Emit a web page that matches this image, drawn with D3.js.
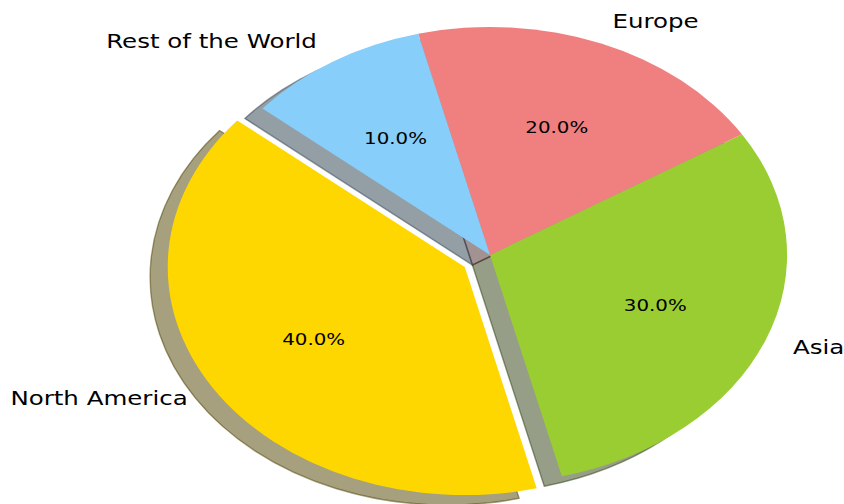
<!DOCTYPE html>
<html><head><meta charset="utf-8">
<script src="https://cdn.jsdelivr.net/npm/d3@7"></script>
<style>html,body{margin:0;padding:0;background:#fff;}svg{display:block;}</style>
</head><body>
<svg id="chart" width="844" height="504"></svg>
<script>
const categories = ["North America", "Asia", "Europe", "Rest of the World"];
const values = [40, 30, 20, 10];
const colors = ["#FFD700", "#9ACD32", "#F08080", "#87CEFA"];
const explode = [0.1, 0, 0, 0];

const W = 844, H = 504;
const cx = 490, cy = 255, R = 228, sx = 1.303;
const startDeg = 140; // matplotlib startangle, counter-clockwise
const shadowOff = [-13.5, 10];

const svg = d3.select("#chart");
const g = svg.append("g").attr("transform", `translate(${cx},${cy}) scale(${sx},1)`);

const a0 = (90 - startDeg) * Math.PI / 180;
const pie = d3.pie().sort(null).value(d => d).startAngle(a0).endAngle(a0 - 2 * Math.PI);
const arcs = pie(values);
const arc = d3.arc().innerRadius(0).outerRadius(R);

function offset(d, i) {
  const m = (d.startAngle + d.endAngle) / 2;
  return [explode[i] * R * Math.sin(m), -explode[i] * R * Math.cos(m)];
}

// shadows
const sh = g.append("g");
arcs.forEach((d, i) => {
  const o = offset(d, i);
  const c = d3.rgb(colors[i]);
  const sc = d3.rgb(c.r * 0.3, c.g * 0.3, c.b * 0.3);
  const p = sh.append("g").attr("transform", `translate(${o[0] + shadowOff[0]},${o[1] + shadowOff[1]})`);
  p.append("path").attr("d", arc(d)).attr("fill", sc).attr("fill-opacity", 0.5);
  p.append("path").attr("d", arc(d)).attr("fill", "none").attr("stroke", sc).attr("stroke-opacity", 0.5)
    .attr("stroke-width", 1.4).attr("vector-effect", "non-scaling-stroke").attr("stroke-linejoin", "miter");
});

// wedges
arcs.forEach((d, i) => {
  const o = offset(d, i);
  g.append("path").attr("d", arc(d)).attr("transform", `translate(${o[0]},${o[1]})`).attr("fill", colors[i]);
});

// labels
arcs.forEach((d, i) => {
  const o = offset(d, i);
  const m = (d.startAngle + d.endAngle) / 2;
  const ux = Math.sin(m), uy = -Math.cos(m);
  const lx = o[0] + 1.1 * R * ux, ly = o[1] + 1.1 * R * uy;
  g.append("text").attr("x", lx).attr("y", ly - 1)
    .attr("text-anchor", ux > 0 ? "start" : "end")
    .attr("dominant-baseline", "central")
    .attr("font-family", "DejaVu Sans").attr("font-size", 18.8).attr("fill", "#000")
    .text(categories[i]);
  const px = o[0] + 0.6 * R * ux, py = o[1] + 0.6 * R * uy;
  const total = d3.sum(values);
  g.append("text").attr("x", px).attr("y", py)
    .attr("text-anchor", "middle").attr("dominant-baseline", "central")
    .attr("font-family", "DejaVu Sans").attr("font-size", 15.2).attr("fill", "#000")
    .text((values[i] / total * 100).toFixed(1) + "%");
});
</script>
</body></html>
